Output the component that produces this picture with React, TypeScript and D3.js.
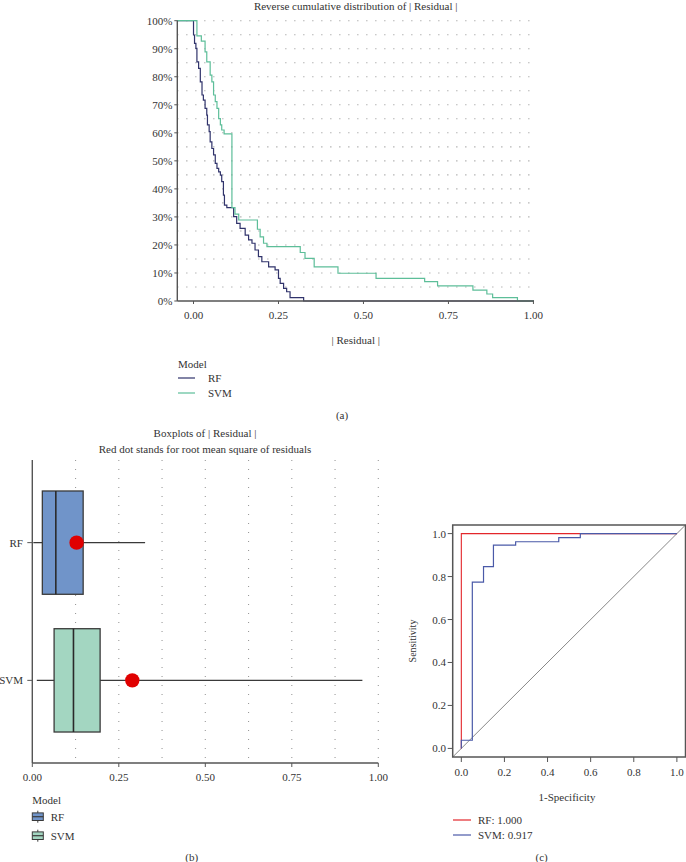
import React from "react";
import * as d3 from "d3";

const FONT = "'Liberation Serif', 'DejaVu Serif', serif";
const TXT = "#333";
const FS = 11;

// ---------- Panel (a): reverse cumulative distribution ----------
const rfResidual = [0.0, 0.003, 0.007, 0.010, 0.015, 0.020, 0.025, 0.029, 0.034, 0.039, 0.041, 0.046, 0.049, 0.054, 0.059, 0.064, 0.069, 0.074, 0.079, 0.083, 0.088, 0.091, 0.098, 0.118, 0.127, 0.137, 0.152, 0.162, 0.172, 0.181, 0.191, 0.201, 0.221, 0.240, 0.250, 0.255, 0.265, 0.274, 0.284, 0.324];
const rfShare = [0.949, 0.919, 0.901, 0.853, 0.830, 0.782, 0.735, 0.717, 0.687, 0.663, 0.628, 0.604, 0.568, 0.544, 0.521, 0.491, 0.473, 0.461, 0.449, 0.426, 0.378, 0.342, 0.333, 0.301, 0.277, 0.259, 0.235, 0.218, 0.206, 0.182, 0.158, 0.140, 0.122, 0.111, 0.081, 0.063, 0.045, 0.033, 0.012, 0.0];
const svmResidual = [0.010, 0.023, 0.034, 0.039, 0.049, 0.054, 0.059, 0.064, 0.069, 0.074, 0.079, 0.083, 0.090, 0.113, 0.122, 0.133, 0.188, 0.196, 0.206, 0.216, 0.314, 0.328, 0.355, 0.425, 0.537, 0.680, 0.718, 0.822, 0.863, 0.880, 0.953];
const svmShare = [0.946, 0.927, 0.889, 0.853, 0.806, 0.782, 0.735, 0.711, 0.687, 0.651, 0.628, 0.610, 0.596, 0.333, 0.310, 0.289, 0.256, 0.229, 0.206, 0.194, 0.173, 0.152, 0.122, 0.099, 0.081, 0.069, 0.054, 0.039, 0.025, 0.012, 0.0];
const ecdfXTicks = [0, 0.25, 0.5, 0.75, 1];
const ecdfYTicks = [0, 0.1, 0.2, 0.3, 0.4, 0.5, 0.6, 0.7, 0.8, 0.9, 1];
const ecdfGrid = [0.05, 0.1, 0.15, 0.2, 0.25, 0.3, 0.35, 0.4, 0.45, 0.5, 0.55, 0.6, 0.65, 0.7, 0.75, 0.8, 0.85, 0.9, 0.95, 1];
const models = ["RF", "SVM"];
const lineColors = ["#30336b", "#5dbe99"];

// ---------- Panel (b): boxplots ----------
const boxLow = [0.003, 0.013];
const boxQ1 = [0.029, 0.063];
const boxMedian = [0.068, 0.119];
const boxQ3 = [0.147, 0.196];
const boxHigh = [0.326, 0.954];
const boxRms = [0.128, 0.289];
const boxFills = ["#7094c9", "#a3d6c1"];
const boxXTicks = [0, 0.25, 0.5, 0.75, 1];
const boxGrid = [0.125, 0.25, 0.375, 0.5, 0.625, 0.75, 0.875, 1];

// ---------- Panel (c): ROC ----------
const rocRfFpr = [0, 0, 1];
const rocRfTpr = [0, 1, 1];
const rocSvmFpr = [0, 0, 0.051, 0.103, 0.149, 0.252, 0.452, 0.552, 1];
const rocSvmTpr = [0, 0.038, 0.774, 0.846, 0.946, 0.962, 0.981, 1, 1];
const rocTicks = [0, 0.2, 0.4, 0.6, 0.8, 1];
const rocLabels = ["RF: 1.000", "SVM: 0.917"];
const rocColors = ["#e3262b", "#4a5aa8"];

export default function App() {
  // panel a scales
  const xa = d3.scaleLinear().domain([-0.0477, 1.0017]).range([177.3, 534]);
  const ya = d3.scaleLinear().domain([0, 1]).range([301, 20.7]);
  const stepLine = d3
    .line<[number, number]>()
    .x((d) => xa(d[0]))
    .y((d) => ya(d[1]))
    .curve(d3.curveStepAfter);
  const mkPts = (xs: number[], ys: number[]): [number, number][] => {
    const pts: [number, number][] = [[-0.0477, 1]];
    xs.forEach((x, i) => pts.push([x, ys[i]]));
    return pts;
  };
  const rfPath = stepLine(mkPts(rfResidual, rfShare)) || "";
  const svmPath = stepLine(mkPts(svmResidual, svmShare)) || "";

  // panel b scales
  const xb = d3.scaleLinear().domain([0, 1]).range([32.3, 378.3]);
  const yb = d3.scalePoint<string>().domain(models).range([460, 763]).padding(0.6);
  const half = yb.step() * 0.375;

  // panel c scales
  const xc = d3.scaleLinear().domain([-0.04, 1.04]).range([452.7, 685.5]);
  const yc = d3.scaleLinear().domain([-0.04, 1.04]).range([757, 525]);
  const rocLine = d3
    .line<[number, number]>()
    .x((d) => xc(d[0]))
    .y((d) => yc(d[1]))
    .curve(d3.curveStepAfter);
  const rfRoc = rocLine(rocRfFpr.map((f, i) => [f, rocRfTpr[i]] as [number, number])) || "";
  const svmRoc = rocLine(rocSvmFpr.map((f, i) => [f, rocSvmTpr[i]] as [number, number])) || "";

  const gridStyle = { stroke: "#9a9a9a", strokeWidth: 1.1, strokeDasharray: "1.1 7.9" };

  return (
    <div style={{ position: "absolute", left: 0, top: 0 }}>
      <svg width={686} height={862} style={{ display: "block", background: "#fff" }} fontFamily={FONT}>
        {/* ================= (a) ================= */}
        <text x={355.7} y={6} textAnchor="middle" dominantBaseline="central" fontSize={FS} fill={TXT}>
          Reverse cumulative distribution of | Residual |
        </text>
        {ecdfGrid.map((g) => (
          <line key={"ga" + g} x1={xa(-0.0477)} x2={xa(1.0017)} y1={ya(g)} y2={ya(g)} {...gridStyle} />
        ))}
        <path d={rfPath + `L${xa(1.0017)},${ya(0)}`} fill="none" stroke={lineColors[0]} strokeWidth={1.2} />
        <path d={svmPath + `L${xa(1.0017)},${ya(0)}`} fill="none" stroke={lineColors[1]} strokeWidth={1.2} />
        <line x1={xa(-0.0477)} x2={xa(-0.0477)} y1={ya(1)} y2={ya(0)} stroke="#555" strokeWidth={1.4} />
        <line x1={xa(-0.0477)} x2={xa(1.0017)} y1={ya(0)} y2={ya(0)} stroke="#555" strokeWidth={1.4} />
        {ecdfYTicks.map((t) => (
          <g key={"ya" + t}>
            <line x1={xa(-0.0477) - 3} x2={xa(-0.0477)} y1={ya(t)} y2={ya(t)} stroke="#555" strokeWidth={1} />
            <text x={xa(-0.0477) - 5} y={ya(t)} textAnchor="end" dominantBaseline="central" fontSize={FS} fill={TXT}>
              {d3.format(".0%")(t)}
            </text>
          </g>
        ))}
        {ecdfXTicks.map((t) => (
          <g key={"xa" + t}>
            <line x1={xa(t)} x2={xa(t)} y1={ya(0)} y2={ya(0) + 3} stroke="#555" strokeWidth={1} />
            <text x={xa(t)} y={315} textAnchor="middle" dominantBaseline="central" fontSize={FS} fill={TXT}>
              {d3.format(".2f")(t)}
            </text>
          </g>
        ))}
        <text x={355.7} y={340} textAnchor="middle" dominantBaseline="central" fontSize={FS} fill={TXT}>
          | Residual |
        </text>
        <text x={178} y={364} dominantBaseline="central" fontSize={FS} fill={TXT}>Model</text>
        {models.map((m, i) => (
          <g key={"la" + m}>
            <line x1={178} x2={195} y1={378 + i * 15} y2={378 + i * 15} stroke={lineColors[i]} strokeWidth={1.2} />
            <text x={208} y={378 + i * 15} dominantBaseline="central" fontSize={FS} fill={TXT}>{m}</text>
          </g>
        ))}
        <text x={342} y={415} textAnchor="middle" dominantBaseline="central" fontSize={FS} fill={TXT}>(a)</text>

        {/* ================= (b) ================= */}
        <text x={205} y={433} textAnchor="middle" dominantBaseline="central" fontSize={FS} fill={TXT}>
          Boxplots of | Residual |
        </text>
        <text x={205} y={449.3} textAnchor="middle" dominantBaseline="central" fontSize={FS} fill={TXT}>
          Red dot stands for root mean square of residuals
        </text>
        {boxGrid.map((g) => (
          <line key={"gb" + g} x1={xb(g)} x2={xb(g)} y1={460} y2={763} {...gridStyle} />
        ))}
        {models.map((m, i) => {
          const cy = yb(m) as number;
          return (
            <g key={"bx" + m}>
              <line x1={xb(boxLow[i])} x2={xb(boxHigh[i])} y1={cy} y2={cy} stroke="#3a3a3a" strokeWidth={1.1} />
              <rect
                x={xb(boxQ1[i])}
                y={cy - half}
                width={xb(boxQ3[i]) - xb(boxQ1[i])}
                height={half * 2}
                fill={boxFills[i]}
                stroke="#3a3a3a"
                strokeWidth={1.3}
              />
              <line x1={xb(boxMedian[i])} x2={xb(boxMedian[i])} y1={cy - half} y2={cy + half} stroke="#2a2a2a" strokeWidth={1.6} />
              <circle cx={xb(boxRms[i])} cy={cy} r={7.2} fill="#e00000" />
            </g>
          );
        })}
        <line x1={xb(0)} x2={xb(0)} y1={460} y2={763} stroke="#555" strokeWidth={1.4} />
        <line x1={xb(0)} x2={xb(1)} y1={763} y2={763} stroke="#555" strokeWidth={1.4} />
        {models.map((m) => (
          <g key={"yb" + m}>
            <line x1={xb(0) - 5} x2={xb(0)} y1={yb(m) as number} y2={yb(m) as number} stroke="#555" strokeWidth={1} />
            <text x={23} y={yb(m) as number} textAnchor="end" dominantBaseline="central" fontSize={FS} fill={TXT}>{m}</text>
          </g>
        ))}
        {boxXTicks.map((t) => (
          <g key={"xb" + t}>
            <line x1={xb(t)} x2={xb(t)} y1={763} y2={767} stroke="#555" strokeWidth={1} />
            <text x={xb(t)} y={777} textAnchor="middle" dominantBaseline="central" fontSize={FS} fill={TXT}>
              {d3.format(".2f")(t)}
            </text>
          </g>
        ))}
        <text x={32.3} y={800} dominantBaseline="central" fontSize={FS} fill={TXT}>Model</text>
        {models.map((m, i) => {
          const ky = 816.7 + i * 19;
          return (
            <g key={"lb" + m}>
              <line x1={37.8} x2={37.8} y1={ky - 6} y2={ky + 6} stroke="#3a3a3a" strokeWidth={1} />
              <rect x={32.3} y={ky - 3.8} width={11} height={7.6} fill={boxFills[i]} stroke="#3a3a3a" strokeWidth={1} />
              <line x1={32.3} x2={43.3} y1={ky} y2={ky} stroke="#3a3a3a" strokeWidth={1.2} />
              <text x={50.7} y={ky} dominantBaseline="central" fontSize={FS} fill={TXT}>{m}</text>
            </g>
          );
        })}
        <text x={191.7} y={857} textAnchor="middle" dominantBaseline="central" fontSize={FS} fill={TXT}>(b)</text>

        {/* ================= (c) ================= */}
        <line x1={xc(-0.04)} y1={yc(-0.04)} x2={xc(1.04)} y2={yc(1.04)} stroke="#888" strokeWidth={1} />
        <path d={rfRoc} fill="none" stroke={rocColors[0]} strokeWidth={1.1} />
        <path d={svmRoc} fill="none" stroke={rocColors[1]} strokeWidth={1.2} />
        <rect x={xc(-0.04)} y={yc(1.04)} width={xc(1.04) - xc(-0.04)} height={yc(-0.04) - yc(1.04)} fill="none" stroke="#555" strokeWidth={1.5} />
        {rocTicks.map((t) => (
          <g key={"rc" + t}>
            <line x1={xc(-0.04) - 5} x2={xc(-0.04)} y1={yc(t)} y2={yc(t)} stroke="#555" strokeWidth={1} />
            <text x={446} y={yc(t)} textAnchor="end" dominantBaseline="central" fontSize={11} fill={TXT}>
              {d3.format(".1f")(t)}
            </text>
            <line x1={xc(t)} x2={xc(t)} y1={yc(-0.04)} y2={yc(-0.04) + 5} stroke="#555" strokeWidth={1} />
            <text x={xc(t)} y={771.7} textAnchor="middle" dominantBaseline="central" fontSize={11} fill={TXT}>
              {d3.format(".1f")(t)}
            </text>
          </g>
        ))}
        <text
          x={412.5}
          y={641}
          transform={`rotate(-90, 412.5, 641)`}
          textAnchor="middle"
          dominantBaseline="central"
          fontSize={10}
          fill={TXT}
        >
          Sensitivity
        </text>
        <text x={567} y={797} textAnchor="middle" dominantBaseline="central" fontSize={11} fill={TXT}>1-Specificity</text>
        {rocLabels.map((l, i) => (
          <g key={"lc" + l}>
            <line x1={453} x2={471} y1={820 + i * 15} y2={820 + i * 15} stroke={rocColors[i]} strokeWidth={1.2} />
            <text x={478} y={820 + i * 15} dominantBaseline="central" fontSize={11} fill={TXT}>{l}</text>
          </g>
        ))}
        <text x={541.7} y={857} textAnchor="middle" dominantBaseline="central" fontSize={FS} fill={TXT}>(c)</text>
      </svg>
    </div>
  );
}
